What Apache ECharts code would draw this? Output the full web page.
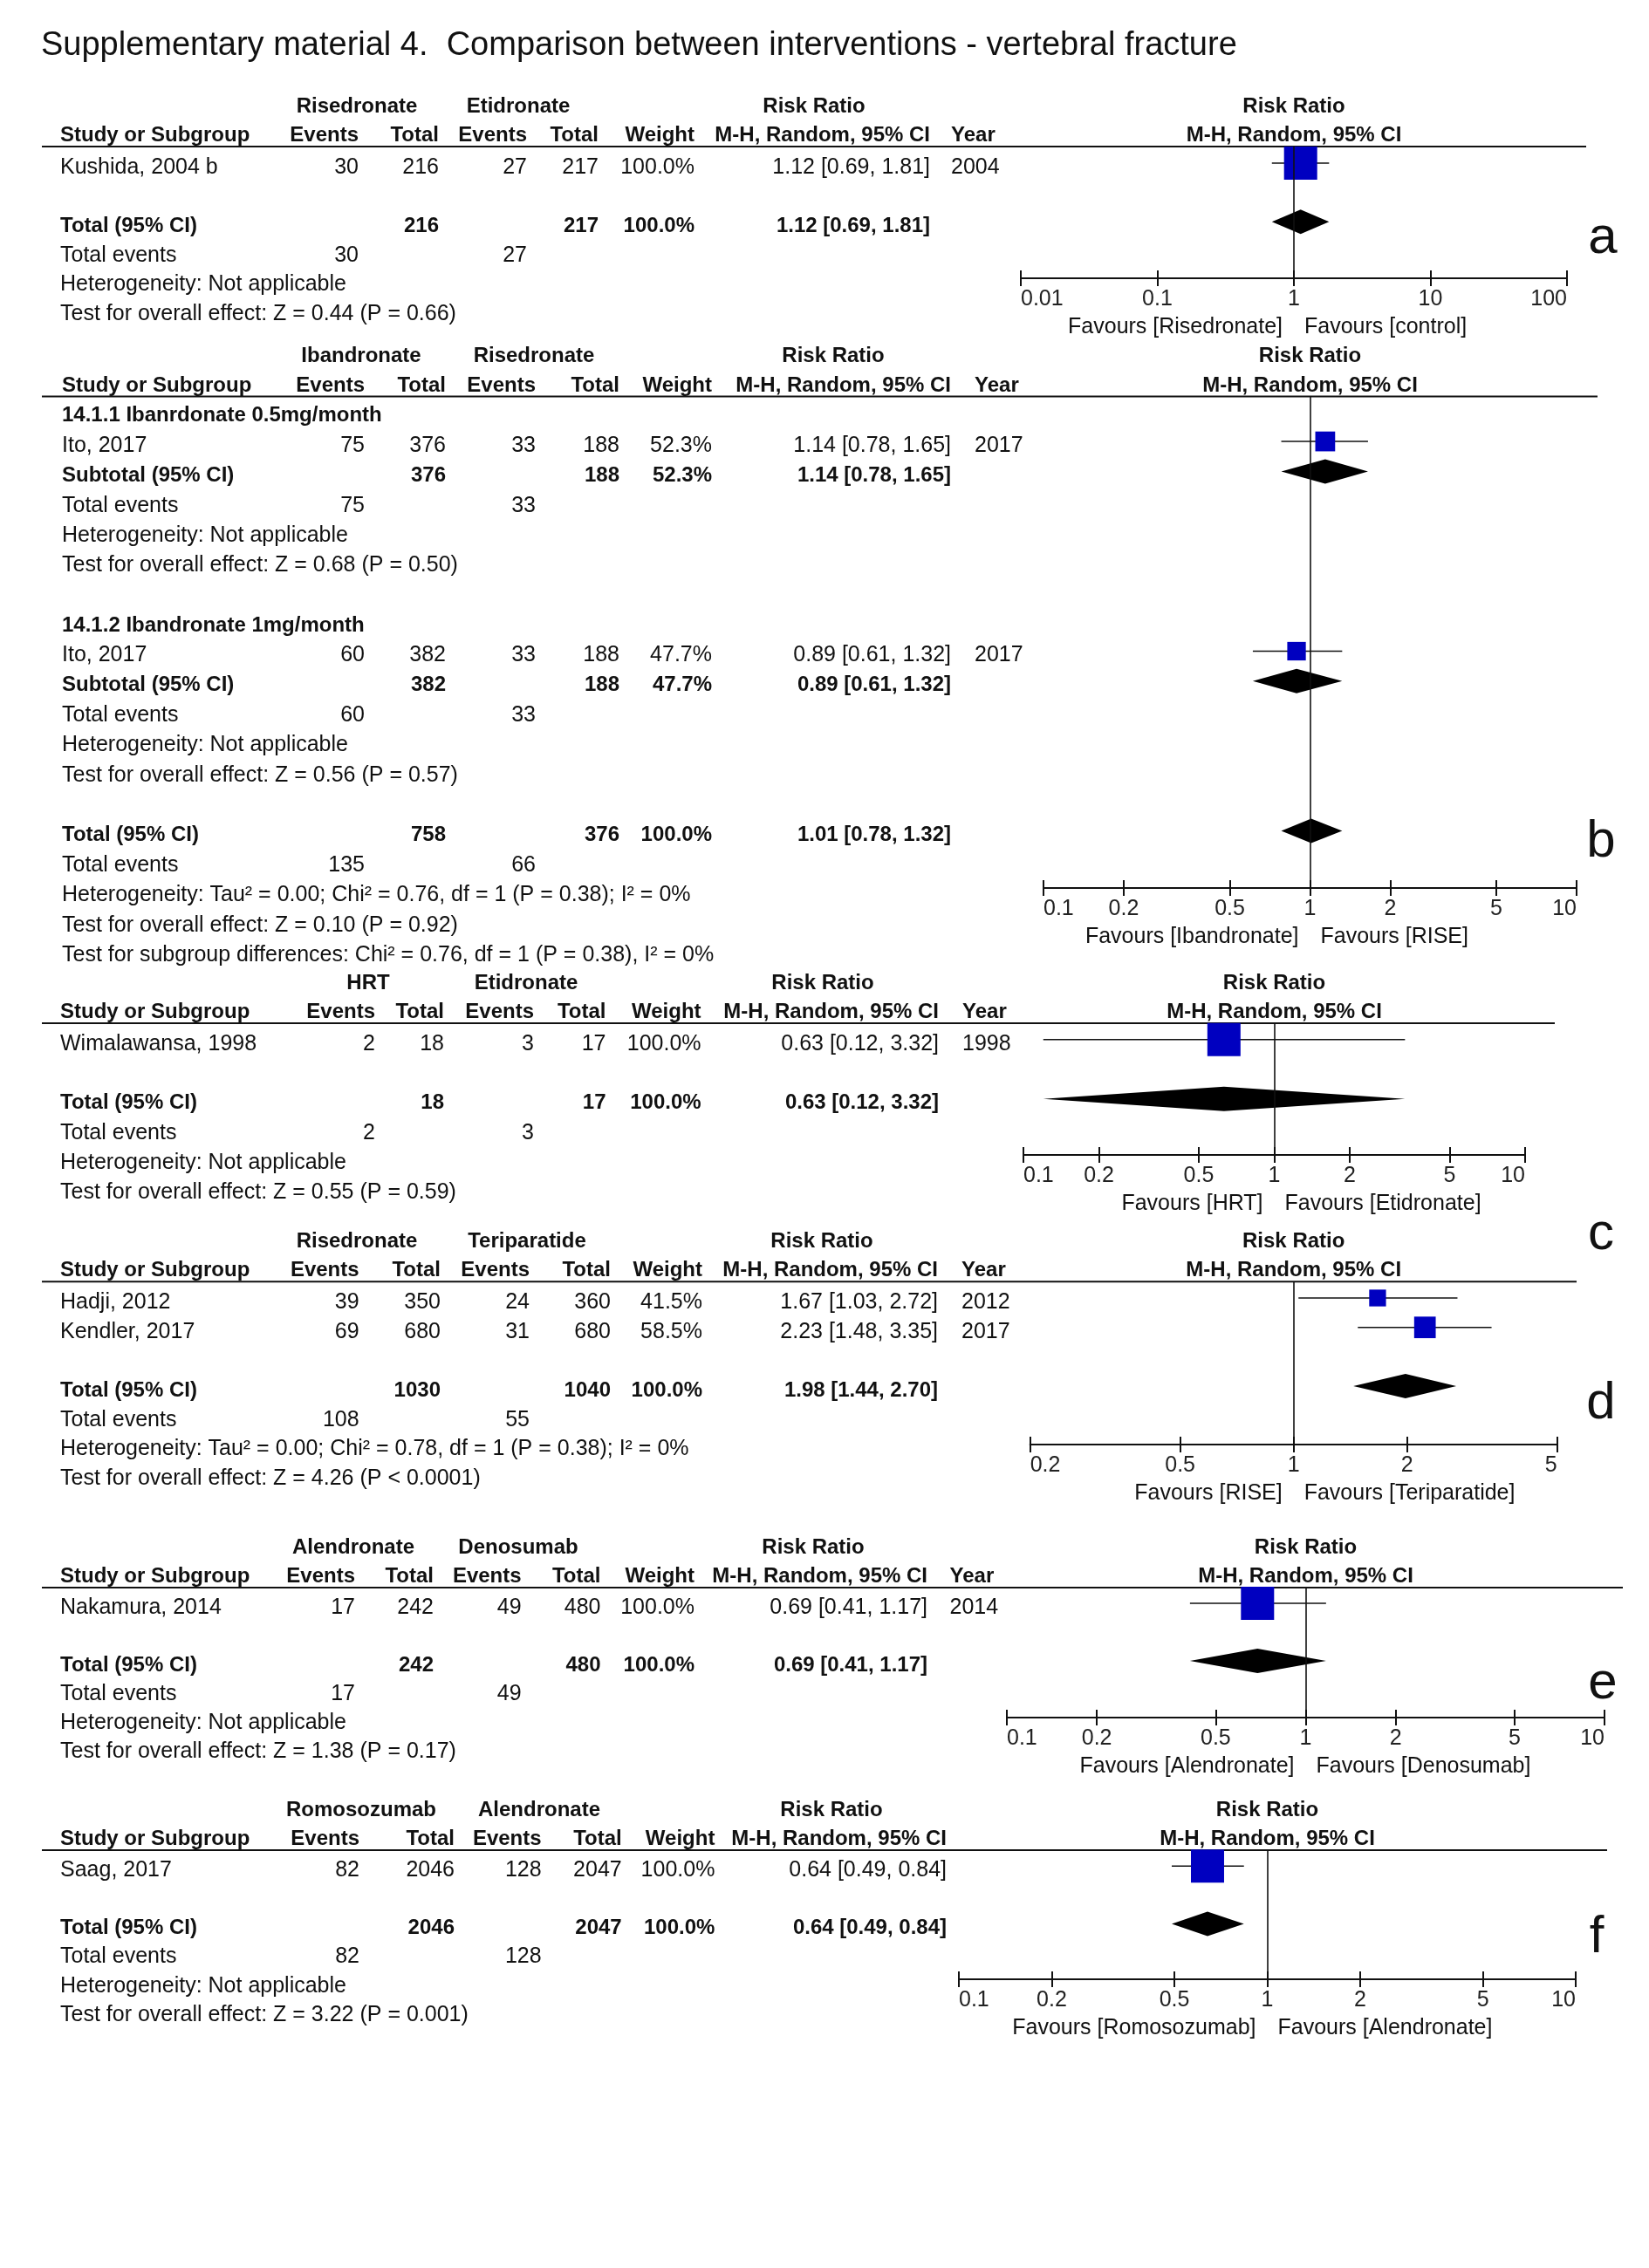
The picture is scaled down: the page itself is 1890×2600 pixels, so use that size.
<!DOCTYPE html>
<html>
<head>
<meta charset="utf-8">
<title>Comparison between interventions - vertebral fracture</title>
<script src="https://cdn.jsdelivr.net/npm/echarts@6.0.0/dist/echarts.min.js"></script>
<style>
  html, body { margin: 0; padding: 0; background: #ffffff; }
  #chart { width: 1890px; height: 2600px; }
</style>
</head>
<body>
<div id="chart"></div>
<script>
const FONT = '"Liberation Sans", Arial, sans-serif';
const INK = '#111111';
const BLUE = '#0000c0';

const titleText = 'Supplementary material 4.  Comparison between interventions - vertebral fracture';

// a: Risedronate vs Etidronate
const aArms = ['Risedronate', 'Etidronate'];
const aStudy = ['Kushida, 2004 b'];
const aEvents = [[30, 27]];
const aTotals = [[216, 217]];
const aWeight = [100.0];
const aRR = [[1.12, 0.69, 1.81]];
const aYear = ['2004'];
const aPooled = [1.12, 0.69, 1.81];
const aStats = ['Heterogeneity: Not applicable', 'Test for overall effect: Z = 0.44 (P = 0.66)'];
const aTicks = [0.01, 0.1, 1, 10, 100];
const aFavours = ['Favours [Risedronate]', 'Favours [control]'];

// b: Ibandronate vs Risedronate, two dose subgroups
const bArms = ['Ibandronate', 'Risedronate'];
const bSubgroups = ['14.1.1 Ibanrdonate 0.5mg/month', '14.1.2 Ibandronate 1mg/month'];
const bStudy = ['Ito, 2017', 'Ito, 2017'];
const bEvents = [[75, 33], [60, 33]];
const bTotals = [[376, 188], [382, 188]];
const bWeight = [52.3, 47.7];
const bRR = [[1.14, 0.78, 1.65], [0.89, 0.61, 1.32]];
const bYear = ['2017', '2017'];
const bSubPooled = [[1.14, 0.78, 1.65], [0.89, 0.61, 1.32]];
const bSubStats = [
  ['Heterogeneity: Not applicable', 'Test for overall effect: Z = 0.68 (P = 0.50)'],
  ['Heterogeneity: Not applicable', 'Test for overall effect: Z = 0.56 (P = 0.57)']
];
const bPooled = [1.01, 0.78, 1.32];
const bStats = [
  'Heterogeneity: Tau² = 0.00; Chi² = 0.76, df = 1 (P = 0.38); I² = 0%',
  'Test for overall effect: Z = 0.10 (P = 0.92)',
  'Test for subgroup differences: Chi² = 0.76, df = 1 (P = 0.38), I² = 0%'
];
const bTicks = [0.1, 0.2, 0.5, 1, 2, 5, 10];
const bFavours = ['Favours [Ibandronate]', 'Favours [RISE]'];

// c: HRT vs Etidronate
const cArms = ['HRT', 'Etidronate'];
const cStudy = ['Wimalawansa, 1998'];
const cEvents = [[2, 3]];
const cTotals = [[18, 17]];
const cWeight = [100.0];
const cRR = [[0.63, 0.12, 3.32]];
const cYear = ['1998'];
const cPooled = [0.63, 0.12, 3.32];
const cStats = ['Heterogeneity: Not applicable', 'Test for overall effect: Z = 0.55 (P = 0.59)'];
const cTicks = [0.1, 0.2, 0.5, 1, 2, 5, 10];
const cFavours = ['Favours [HRT]', 'Favours [Etidronate]'];

// d: Risedronate vs Teriparatide
const dArms = ['Risedronate', 'Teriparatide'];
const dStudy = ['Hadji, 2012', 'Kendler, 2017'];
const dEvents = [[39, 24], [69, 31]];
const dTotals = [[350, 360], [680, 680]];
const dWeight = [41.5, 58.5];
const dRR = [[1.67, 1.03, 2.72], [2.23, 1.48, 3.35]];
const dYear = ['2012', '2017'];
const dPooled = [1.98, 1.44, 2.70];
const dStats = [
  'Heterogeneity: Tau² = 0.00; Chi² = 0.78, df = 1 (P = 0.38); I² = 0%',
  'Test for overall effect: Z = 4.26 (P < 0.0001)'
];
const dTicks = [0.2, 0.5, 1, 2, 5];
const dFavours = ['Favours [RISE]', 'Favours [Teriparatide]'];

// e: Alendronate vs Denosumab
const eArms = ['Alendronate', 'Denosumab'];
const eStudy = ['Nakamura, 2014'];
const eEvents = [[17, 49]];
const eTotals = [[242, 480]];
const eWeight = [100.0];
const eRR = [[0.69, 0.41, 1.17]];
const eYear = ['2014'];
const ePooled = [0.69, 0.41, 1.17];
const eStats = ['Heterogeneity: Not applicable', 'Test for overall effect: Z = 1.38 (P = 0.17)'];
const eTicks = [0.1, 0.2, 0.5, 1, 2, 5, 10];
const eFavours = ['Favours [Alendronate]', 'Favours [Denosumab]'];

// f: Romosozumab vs Alendronate
const fArms = ['Romosozumab', 'Alendronate'];
const fStudy = ['Saag, 2017'];
const fEvents = [[82, 128]];
const fTotals = [[2046, 2047]];
const fWeight = [100.0];
const fRR = [[0.64, 0.49, 0.84]];
const fYear = null;
const fPooled = [0.64, 0.49, 0.84];
const fStats = ['Heterogeneity: Not applicable', 'Test for overall effect: Z = 3.22 (P = 0.001)'];
const fTicks = [0.1, 0.2, 0.5, 1, 2, 5, 10];
const fFavours = ['Favours [Romosozumab]', 'Favours [Alendronate]'];

const panels = [
  { key: 'a', arms: aArms, study: aStudy, events: aEvents, totals: aTotals, weight: aWeight, rr: aRR, year: aYear, pooled: aPooled, stats: aStats, ticks: aTicks, favours: aFavours },
  { key: 'b', arms: bArms, study: bStudy, events: bEvents, totals: bTotals, weight: bWeight, rr: bRR, year: bYear, pooled: bPooled, stats: bStats, ticks: bTicks, favours: bFavours,
    subgroups: bSubgroups.map((name, g) => ({ name: name, idx: [g], pooled: bSubPooled[g], stats: bSubStats[g] })) },
  { key: 'c', arms: cArms, study: cStudy, events: cEvents, totals: cTotals, weight: cWeight, rr: cRR, year: cYear, pooled: cPooled, stats: cStats, ticks: cTicks, favours: cFavours },
  { key: 'd', arms: dArms, study: dStudy, events: dEvents, totals: dTotals, weight: dWeight, rr: dRR, year: dYear, pooled: dPooled, stats: dStats, ticks: dTicks, favours: dFavours },
  { key: 'e', arms: eArms, study: eStudy, events: eEvents, totals: eTotals, weight: eWeight, rr: eRR, year: eYear, pooled: ePooled, stats: eStats, ticks: eTicks, favours: eFavours },
  { key: 'f', arms: fArms, study: fStudy, events: fEvents, totals: fTotals, weight: fWeight, rr: fRR, year: fYear, pooled: fPooled, stats: fStats, ticks: fTicks, favours: fFavours }
];

// page layout of each panel (pixels)
const layout = {
  a: { line: 168, row0: 192, pitch: 33.6, axisY: 319, x0: 1170, x1: 1796, lineEnd: 1818,
       cols: [69, 411, 503, 604, 686, 796, 1066, 1090], heads: [409, 594, 933], letter: [1837, 273] },
  b: { line: 454.5, row0: 476.7, pitch: 34.35, axisY: 1018, x0: 1196, x1: 1807, lineEnd: 1831,
       cols: [71, 418, 511, 614, 710, 816, 1090, 1117], heads: [414, 612, 955], letter: [1835, 965] },
  c: { line: 1173, row0: 1196.7, pitch: 34, axisY: 1324, x0: 1173, x1: 1748, lineEnd: 1782,
       cols: [69, 430, 509, 612, 694.5, 803.6, 1076, 1103], heads: [422, 603, 943], letter: [1835, 1415] },
  d: { line: 1469.3, row0: 1493, pitch: 33.7, axisY: 1656, x0: 1180.7, x1: 1784.7, lineEnd: 1807,
       cols: [69, 411.6, 505, 607, 700, 805, 1075, 1102], heads: [409, 604, 942], letter: [1835, 1609] },
  e: { line: 1820, row0: 1843, pitch: 33, axisY: 1969, x0: 1154, x1: 1839, lineEnd: 1860,
       cols: [69, 407, 497, 597.6, 688.5, 796, 1063, 1088.5], heads: [405, 594, 932], letter: [1837, 1930] },
  f: { line: 2121, row0: 2144.3, pitch: 33.1, axisY: 2269, x0: 1099, x1: 1806, lineEnd: 1842,
       cols: [69, 412, 521, 620.6, 712.7, 819.4, 1085], heads: [414, 618, 953], letter: [1830, 2221] }
};

const sum = (arr) => arr.reduce((s, v) => s + v, 0);
const fmtCI = (c) => c[0].toFixed(2) + ' [' + c[1].toFixed(2) + ', ' + c[2].toFixed(2) + ']';
const fmtTick = (v) => String(+Math.pow(10, v).toPrecision(2));

function txt(x, y, text, align, bold, size) {
  const fs = size || (bold ? 24 : 25);
  return {
    type: 'text', x: x, y: y, silent: true,
    style: {
      text: text, fill: INK,
      font: (bold ? 'bold ' : '') + fs + 'px ' + FONT,
      align: align, verticalAlign: 'middle',
      textAlign: align, textVerticalAlign: 'middle'
    }
  };
}

function hline(x1, x2, y, w) {
  return { type: 'line', silent: true, shape: { x1: x1, y1: y, x2: x2, y2: y },
           style: { stroke: INK, lineWidth: w || 2 } };
}

function buildRows(p) {
  const rows = [];
  const all = p.study.map((s, j) => j);
  if (p.subgroups) {
    p.subgroups.forEach(sg => {
      rows.push({ kind: 'heading', text: sg.name });
      sg.idx.forEach(j => rows.push({ kind: 'study', j: j }));
      rows.push({ kind: 'pooled', label: 'Subtotal (95% CI)', idx: sg.idx, ci: sg.pooled });
      rows.push({ kind: 'events', idx: sg.idx });
      sg.stats.forEach(t => rows.push({ kind: 'text', text: t }));
      rows.push({ kind: 'blank' });
    });
  } else {
    all.forEach(j => rows.push({ kind: 'study', j: j }));
    rows.push({ kind: 'blank' });
  }
  rows.push({ kind: 'pooled', label: 'Total (95% CI)', idx: all, ci: p.pooled });
  rows.push({ kind: 'events', idx: all });
  p.stats.forEach(t => rows.push({ kind: 'text', text: t }));
  return rows;
}

const grids = [], xAxes = [], yAxes = [], series = [];
const elements = [txt(47, 53, titleText, 'left', false, 38)];

panels.forEach((p, k) => {
  const lay = layout[p.key];
  const c = lay.cols;
  const tickVals = p.ticks.map(Math.log10);
  const lmin = tickVals[0], lmax = tickVals[tickVals.length - 1];
  const markTop = lay.row0 - 5;
  const xOne = lay.x0 + (0 - lmin) / (lmax - lmin) * (lay.x1 - lay.x0);

  grids.push({ left: lay.x0, top: lay.line, width: lay.x1 - lay.x0, height: lay.axisY - lay.line });
  xAxes.push({
    type: 'value', gridIndex: k, min: lmin, max: lmax, position: 'bottom',
    axisLine: { show: true, onZero: false, lineStyle: { color: INK, width: 2 } },
    axisTick: { show: true, length: 9, customValues: tickVals, lineStyle: { color: INK, width: 2 } },
    axisLabel: {
      show: true, customValues: tickVals, formatter: fmtTick, margin: 12,
      fontSize: 25, fontFamily: FONT, color: '#222222',
      showMinLabel: true, showMaxLabel: true, alignMinLabel: 'left', alignMaxLabel: 'right'
    },
    splitLine: { show: false }
  });
  xAxes.push({
    type: 'value', gridIndex: k, min: lmin, max: lmax, position: 'bottom',
    axisLine: { show: false, onZero: false },
    axisTick: { show: true, inside: true, length: 9, customValues: tickVals, lineStyle: { color: INK, width: 2 } },
    axisLabel: { show: false },
    splitLine: { show: false }
  });
  yAxes.push({
    type: 'value', gridIndex: k, inverse: true, show: false,
    min: (lay.line - markTop) / lay.pitch, max: (lay.axisY - markTop) / lay.pitch
  });

  // column headers
  const gy = lay.line - 46, hy = lay.line - 12.5;
  elements.push(txt(lay.heads[0], gy, p.arms[0], 'center', true));
  elements.push(txt(lay.heads[1], gy, p.arms[1], 'center', true));
  elements.push(txt(lay.heads[2], gy, 'Risk Ratio', 'center', true));
  elements.push(txt(xOne, gy, 'Risk Ratio', 'center', true));
  elements.push(txt(c[0], hy, 'Study or Subgroup', 'left', true));
  elements.push(txt(c[1], hy, 'Events', 'right', true));
  elements.push(txt(c[2], hy, 'Total', 'right', true));
  elements.push(txt(c[3], hy, 'Events', 'right', true));
  elements.push(txt(c[4], hy, 'Total', 'right', true));
  elements.push(txt(c[5], hy, 'Weight', 'right', true));
  elements.push(txt(c[6], hy, 'M-H, Random, 95% CI', 'right', true));
  if (p.year) elements.push(txt(c[7], hy, 'Year', 'left', true));
  elements.push(txt(xOne, hy, 'M-H, Random, 95% CI', 'center', true));
  elements.push(hline(48, lay.lineEnd, lay.line, 2));

  const ciData = [], sqData = [], dmData = [];
  buildRows(p).forEach((r, i) => {
    const ty = lay.row0 + i * lay.pitch;
    if (r.kind === 'heading') {
      elements.push(txt(c[0], ty, r.text, 'left', true));
    } else if (r.kind === 'study') {
      const j = r.j;
      elements.push(txt(c[0], ty, p.study[j], 'left', false));
      elements.push(txt(c[1], ty, String(p.events[j][0]), 'right', false));
      elements.push(txt(c[2], ty, String(p.totals[j][0]), 'right', false));
      elements.push(txt(c[3], ty, String(p.events[j][1]), 'right', false));
      elements.push(txt(c[4], ty, String(p.totals[j][1]), 'right', false));
      elements.push(txt(c[5], ty, p.weight[j].toFixed(1) + '%', 'right', false));
      elements.push(txt(c[6], ty, fmtCI(p.rr[j]), 'right', false));
      if (p.year) elements.push(txt(c[7], ty, p.year[j], 'left', false));
      ciData.push([Math.log10(p.rr[j][1]), Math.log10(p.rr[j][2]), i]);
      sqData.push([Math.log10(p.rr[j][0]), i, p.weight[j]]);
    } else if (r.kind === 'pooled') {
      elements.push(txt(c[0], ty, r.label, 'left', true));
      elements.push(txt(c[2], ty, String(sum(r.idx.map(j => p.totals[j][0]))), 'right', true));
      elements.push(txt(c[4], ty, String(sum(r.idx.map(j => p.totals[j][1]))), 'right', true));
      elements.push(txt(c[5], ty, sum(r.idx.map(j => p.weight[j])).toFixed(1) + '%', 'right', true));
      elements.push(txt(c[6], ty, fmtCI(r.ci), 'right', true));
      dmData.push([Math.log10(r.ci[1]), Math.log10(r.ci[0]), Math.log10(r.ci[2]), i]);
    } else if (r.kind === 'events') {
      elements.push(txt(c[0], ty, 'Total events', 'left', false));
      elements.push(txt(c[1], ty, String(sum(r.idx.map(j => p.events[j][0]))), 'right', false));
      elements.push(txt(c[3], ty, String(sum(r.idx.map(j => p.events[j][1]))), 'right', false));
    } else if (r.kind === 'text') {
      elements.push(txt(c[0], ty, r.text, 'left', false));
    }
  });

  // favours labels and panel letter
  elements.push(txt(xOne - 13, lay.axisY + 56, p.favours[0], 'right', false, 25));
  elements.push(txt(xOne + 12, lay.axisY + 56, p.favours[1], 'left', false, 25));
  elements.push(txt(lay.letter[0], lay.letter[1], p.key, 'center', false, 60));

  series.push({
    type: 'custom', xAxisIndex: 2 * k, yAxisIndex: k, z: 2,
    data: ciData, encode: { x: [0, 1], y: 2 },
    renderItem: (params, api) => {
      const a = api.coord([api.value(0), api.value(2)]);
      const b = api.coord([api.value(1), api.value(2)]);
      return { type: 'line', shape: { x1: a[0], y1: a[1], x2: b[0], y2: b[1] },
               style: { stroke: INK, lineWidth: 1.6 } };
    },
    markLine: {
      silent: true, symbol: ['none', 'none'], label: { show: false },
      lineStyle: { color: INK, width: 1.6, type: 'solid' },
      data: [{ xAxis: 0 }]
    }
  });
  series.push({
    type: 'scatter', xAxisIndex: 2 * k, yAxisIndex: k, z: 4,
    symbol: 'rect', symbolSize: (v) => 6 + 32 * v[2] / 100,
    itemStyle: { color: BLUE, opacity: 1 },
    data: sqData
  });
  series.push({
    type: 'custom', xAxisIndex: 2 * k, yAxisIndex: k, z: 3,
    data: dmData, encode: { x: [0, 1, 2], y: 3 },
    renderItem: (params, api) => {
      const l = api.coord([api.value(0), api.value(3)]);
      const m = api.coord([api.value(1), api.value(3)]);
      const r = api.coord([api.value(2), api.value(3)]);
      const h = 14;
      return { type: 'polygon',
               shape: { points: [[l[0], l[1]], [m[0], m[1] - h], [r[0], r[1]], [m[0], m[1] + h]] },
               style: { fill: '#000000' } };
    }
  });
});

const myChart = echarts.init(document.getElementById('chart'));
myChart.setOption({
  backgroundColor: '#ffffff',
  animation: false,
  grid: grids,
  xAxis: xAxes,
  yAxis: yAxes,
  series: series,
  graphic: { elements: elements }
});
addEventListener('resize', () => {
  myChart.resize();
});
</script>
</body>
</html>
